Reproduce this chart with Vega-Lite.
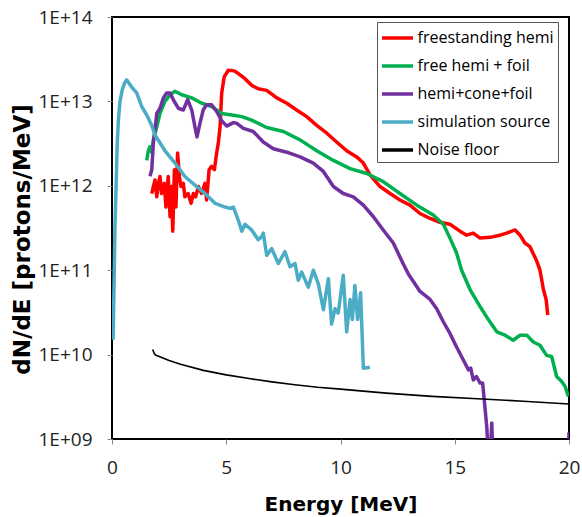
{
  "$schema": "https://vega.github.io/schema/vega-lite/v6.json",
  "width": 457,
  "height": 422,
  "autosize": "none",
  "padding": {"left": 112, "top": 17, "right": 13, "bottom": 78},
  "background": "white",
  "config": {
    "view": {"stroke": "#000000", "strokeWidth": 2},
    "font": "Open Sans"
  },
  "data": {
    "values": [
      {"s": "freestanding hemi", "e": 1.74, "v": 8.1e11},
      {"s": "freestanding hemi", "e": 1.81, "v": 9.8e11},
      {"s": "freestanding hemi", "e": 1.88, "v": 1.17e12},
      {"s": "freestanding hemi", "e": 1.96, "v": 7.4e11},
      {"s": "freestanding hemi", "e": 2.03, "v": 1.07e12},
      {"s": "freestanding hemi", "e": 2.10, "v": 1.29e12},
      {"s": "freestanding hemi", "e": 2.17, "v": 8.1e11},
      {"s": "freestanding hemi", "e": 2.29, "v": 1.07e12},
      {"s": "freestanding hemi", "e": 2.36, "v": 5.6e11},
      {"s": "freestanding hemi", "e": 2.46, "v": 1.29e12},
      {"s": "freestanding hemi", "e": 2.54, "v": 4.3e11},
      {"s": "freestanding hemi", "e": 2.60, "v": 9.8e11},
      {"s": "freestanding hemi", "e": 2.66, "v": 2.9e11},
      {"s": "freestanding hemi", "e": 2.73, "v": 1.55e12},
      {"s": "freestanding hemi", "e": 2.80, "v": 5.6e11},
      {"s": "freestanding hemi", "e": 2.87, "v": 2.45e12},
      {"s": "freestanding hemi", "e": 2.95, "v": 1.29e12},
      {"s": "freestanding hemi", "e": 3.02, "v": 9.8e11},
      {"s": "freestanding hemi", "e": 3.12, "v": 1.07e12},
      {"s": "freestanding hemi", "e": 3.19, "v": 7.4e11},
      {"s": "freestanding hemi", "e": 3.33, "v": 8.1e11},
      {"s": "freestanding hemi", "e": 3.46, "v": 6.2e11},
      {"s": "freestanding hemi", "e": 3.56, "v": 8.1e11},
      {"s": "freestanding hemi", "e": 3.66, "v": 7.4e11},
      {"s": "freestanding hemi", "e": 3.78, "v": 9.8e11},
      {"s": "freestanding hemi", "e": 3.92, "v": 8.1e11},
      {"s": "freestanding hemi", "e": 4.07, "v": 1.07e12},
      {"s": "freestanding hemi", "e": 4.14, "v": 6.8e11},
      {"s": "freestanding hemi", "e": 4.25, "v": 1.55e12},
      {"s": "freestanding hemi", "e": 4.36, "v": 1.7e12},
      {"s": "freestanding hemi", "e": 4.48, "v": 1.55e12},
      {"s": "freestanding hemi", "e": 4.58, "v": 2.45e12},
      {"s": "freestanding hemi", "e": 4.65, "v": 3.16e12},
      {"s": "freestanding hemi", "e": 4.73, "v": 5.0e12},
      {"s": "freestanding hemi", "e": 4.80, "v": 1.26e13},
      {"s": "freestanding hemi", "e": 4.91, "v": 1.95e13},
      {"s": "freestanding hemi", "e": 5.09, "v": 2.34e13},
      {"s": "freestanding hemi", "e": 5.35, "v": 2.3e13},
      {"s": "freestanding hemi", "e": 5.53, "v": 2.14e13},
      {"s": "freestanding hemi", "e": 5.82, "v": 1.86e13},
      {"s": "freestanding hemi", "e": 6.11, "v": 1.55e13},
      {"s": "freestanding hemi", "e": 6.40, "v": 1.41e13},
      {"s": "freestanding hemi", "e": 6.77, "v": 1.35e13},
      {"s": "freestanding hemi", "e": 7.21, "v": 1.1e13},
      {"s": "freestanding hemi", "e": 7.65, "v": 9.5e12},
      {"s": "freestanding hemi", "e": 8.08, "v": 7.9e12},
      {"s": "freestanding hemi", "e": 8.52, "v": 6.6e12},
      {"s": "freestanding hemi", "e": 8.96, "v": 5.2e12},
      {"s": "freestanding hemi", "e": 9.40, "v": 4.2e12},
      {"s": "freestanding hemi", "e": 9.83, "v": 3.3e12},
      {"s": "freestanding hemi", "e": 10.27, "v": 2.6e12},
      {"s": "freestanding hemi", "e": 10.71, "v": 2.2e12},
      {"s": "freestanding hemi", "e": 11.00, "v": 1.86e12},
      {"s": "freestanding hemi", "e": 11.29, "v": 1.35e12},
      {"s": "freestanding hemi", "e": 11.73, "v": 9.8e11},
      {"s": "freestanding hemi", "e": 12.17, "v": 8.1e11},
      {"s": "freestanding hemi", "e": 12.60, "v": 6.8e11},
      {"s": "freestanding hemi", "e": 13.04, "v": 5.9e11},
      {"s": "freestanding hemi", "e": 13.48, "v": 4.7e11},
      {"s": "freestanding hemi", "e": 13.92, "v": 4.1e11},
      {"s": "freestanding hemi", "e": 14.35, "v": 3.7e11},
      {"s": "freestanding hemi", "e": 14.79, "v": 3.5e11},
      {"s": "freestanding hemi", "e": 15.23, "v": 2.9e11},
      {"s": "freestanding hemi", "e": 15.52, "v": 2.6e11},
      {"s": "freestanding hemi", "e": 15.81, "v": 2.75e11},
      {"s": "freestanding hemi", "e": 16.11, "v": 2.4e11},
      {"s": "freestanding hemi", "e": 16.54, "v": 2.45e11},
      {"s": "freestanding hemi", "e": 16.98, "v": 2.6e11},
      {"s": "freestanding hemi", "e": 17.27, "v": 2.75e11},
      {"s": "freestanding hemi", "e": 17.64, "v": 3.0e11},
      {"s": "freestanding hemi", "e": 17.86, "v": 2.6e11},
      {"s": "freestanding hemi", "e": 18.07, "v": 2.1e11},
      {"s": "freestanding hemi", "e": 18.29, "v": 1.9e11},
      {"s": "freestanding hemi", "e": 18.58, "v": 1.3e11},
      {"s": "freestanding hemi", "e": 18.73, "v": 1.0e11},
      {"s": "freestanding hemi", "e": 18.88, "v": 5.9e10},
      {"s": "freestanding hemi", "e": 19.00, "v": 4.5e10},
      {"s": "freestanding hemi", "e": 19.07, "v": 2.95e10},

      {"s": "free hemi + foil", "e": 1.52, "v": 2.0e12},
      {"s": "free hemi + foil", "e": 1.59, "v": 2.6e12},
      {"s": "free hemi + foil", "e": 1.66, "v": 2.9e12},
      {"s": "free hemi + foil", "e": 1.74, "v": 2.5e12},
      {"s": "free hemi + foil", "e": 1.81, "v": 3.5e12},
      {"s": "free hemi + foil", "e": 1.96, "v": 5.0e12},
      {"s": "free hemi + foil", "e": 2.10, "v": 7.2e12},
      {"s": "free hemi + foil", "e": 2.32, "v": 1.0e13},
      {"s": "free hemi + foil", "e": 2.54, "v": 1.2e13},
      {"s": "free hemi + foil", "e": 2.76, "v": 1.32e13},
      {"s": "free hemi + foil", "e": 3.05, "v": 1.2e13},
      {"s": "free hemi + foil", "e": 3.49, "v": 1.1e13},
      {"s": "free hemi + foil", "e": 3.93, "v": 9.5e12},
      {"s": "free hemi + foil", "e": 4.36, "v": 8.7e12},
      {"s": "free hemi + foil", "e": 4.80, "v": 7.2e12},
      {"s": "free hemi + foil", "e": 5.24, "v": 6.9e12},
      {"s": "free hemi + foil", "e": 5.68, "v": 6.6e12},
      {"s": "free hemi + foil", "e": 6.11, "v": 6.0e12},
      {"s": "free hemi + foil", "e": 6.77, "v": 4.9e12},
      {"s": "free hemi + foil", "e": 7.50, "v": 4.4e12},
      {"s": "free hemi + foil", "e": 8.23, "v": 3.5e12},
      {"s": "free hemi + foil", "e": 8.96, "v": 2.6e12},
      {"s": "free hemi + foil", "e": 9.69, "v": 2.0e12},
      {"s": "free hemi + foil", "e": 10.42, "v": 1.6e12},
      {"s": "free hemi + foil", "e": 11.15, "v": 1.4e12},
      {"s": "free hemi + foil", "e": 11.87, "v": 1.12e12},
      {"s": "free hemi + foil", "e": 12.60, "v": 8.1e11},
      {"s": "free hemi + foil", "e": 13.34, "v": 5.9e11},
      {"s": "free hemi + foil", "e": 14.06, "v": 4.5e11},
      {"s": "free hemi + foil", "e": 14.50, "v": 3.5e11},
      {"s": "free hemi + foil", "e": 14.79, "v": 2.4e11},
      {"s": "free hemi + foil", "e": 15.08, "v": 1.6e11},
      {"s": "free hemi + foil", "e": 15.30, "v": 1.0e11},
      {"s": "free hemi + foil", "e": 15.67, "v": 5.9e10},
      {"s": "free hemi + foil", "e": 16.11, "v": 3.7e10},
      {"s": "free hemi + foil", "e": 16.47, "v": 2.6e10},
      {"s": "free hemi + foil", "e": 16.84, "v": 1.86e10},
      {"s": "free hemi + foil", "e": 17.20, "v": 1.7e10},
      {"s": "free hemi + foil", "e": 17.56, "v": 1.48e10},
      {"s": "free hemi + foil", "e": 17.86, "v": 1.7e10},
      {"s": "free hemi + foil", "e": 18.15, "v": 1.7e10},
      {"s": "free hemi + foil", "e": 18.44, "v": 1.41e10},
      {"s": "free hemi + foil", "e": 18.73, "v": 1.29e10},
      {"s": "free hemi + foil", "e": 19.02, "v": 9.8e9},
      {"s": "free hemi + foil", "e": 19.24, "v": 9.5e9},
      {"s": "free hemi + foil", "e": 19.46, "v": 5.5e9},
      {"s": "free hemi + foil", "e": 19.68, "v": 4.8e9},
      {"s": "free hemi + foil", "e": 19.83, "v": 4.2e9},
      {"s": "free hemi + foil", "e": 19.97, "v": 3.2e9},

      {"s": "hemi+cone+foil", "e": 1.66, "v": 1.3e12},
      {"s": "hemi+cone+foil", "e": 1.74, "v": 1.55e12},
      {"s": "hemi+cone+foil", "e": 1.81, "v": 3.2e12},
      {"s": "hemi+cone+foil", "e": 1.96, "v": 7.2e12},
      {"s": "hemi+cone+foil", "e": 2.10, "v": 8.3e12},
      {"s": "hemi+cone+foil", "e": 2.25, "v": 1.1e13},
      {"s": "hemi+cone+foil", "e": 2.39, "v": 1.26e13},
      {"s": "hemi+cone+foil", "e": 2.54, "v": 1.26e13},
      {"s": "hemi+cone+foil", "e": 2.68, "v": 1.05e13},
      {"s": "hemi+cone+foil", "e": 2.90, "v": 8.3e12},
      {"s": "hemi+cone+foil", "e": 3.12, "v": 7.9e12},
      {"s": "hemi+cone+foil", "e": 3.31, "v": 1.05e13},
      {"s": "hemi+cone+foil", "e": 3.49, "v": 7.9e12},
      {"s": "hemi+cone+foil", "e": 3.63, "v": 5.0e12},
      {"s": "hemi+cone+foil", "e": 3.72, "v": 3.8e12},
      {"s": "hemi+cone+foil", "e": 3.85, "v": 5.5e12},
      {"s": "hemi+cone+foil", "e": 3.99, "v": 7.9e12},
      {"s": "hemi+cone+foil", "e": 4.14, "v": 9.1e12},
      {"s": "hemi+cone+foil", "e": 4.36, "v": 9.1e12},
      {"s": "hemi+cone+foil", "e": 4.58, "v": 7.6e12},
      {"s": "hemi+cone+foil", "e": 4.80, "v": 5.9e12},
      {"s": "hemi+cone+foil", "e": 5.02, "v": 5.1e12},
      {"s": "hemi+cone+foil", "e": 5.31, "v": 5.6e12},
      {"s": "hemi+cone+foil", "e": 5.46, "v": 5.5e12},
      {"s": "hemi+cone+foil", "e": 5.75, "v": 4.8e12},
      {"s": "hemi+cone+foil", "e": 6.18, "v": 4.4e12},
      {"s": "hemi+cone+foil", "e": 6.62, "v": 3.3e12},
      {"s": "hemi+cone+foil", "e": 7.06, "v": 2.75e12},
      {"s": "hemi+cone+foil", "e": 7.65, "v": 2.5e12},
      {"s": "hemi+cone+foil", "e": 8.23, "v": 2.2e12},
      {"s": "hemi+cone+foil", "e": 8.81, "v": 1.86e12},
      {"s": "hemi+cone+foil", "e": 9.25, "v": 1.48e12},
      {"s": "hemi+cone+foil", "e": 9.69, "v": 9.8e11},
      {"s": "hemi+cone+foil", "e": 10.12, "v": 8.1e11},
      {"s": "hemi+cone+foil", "e": 10.56, "v": 7.4e11},
      {"s": "hemi+cone+foil", "e": 11.00, "v": 5.9e11},
      {"s": "hemi+cone+foil", "e": 11.44, "v": 4.3e11},
      {"s": "hemi+cone+foil", "e": 11.87, "v": 3.0e11},
      {"s": "hemi+cone+foil", "e": 12.31, "v": 2.1e11},
      {"s": "hemi+cone+foil", "e": 12.70, "v": 1.26e11},
      {"s": "hemi+cone+foil", "e": 12.97, "v": 9.0e10},
      {"s": "hemi+cone+foil", "e": 13.48, "v": 5.6e10},
      {"s": "hemi+cone+foil", "e": 13.92, "v": 4.5e10},
      {"s": "hemi+cone+foil", "e": 14.21, "v": 3.5e10},
      {"s": "hemi+cone+foil", "e": 14.50, "v": 2.45e10},
      {"s": "hemi+cone+foil", "e": 14.79, "v": 1.78e10},
      {"s": "hemi+cone+foil", "e": 15.08, "v": 1.23e10},
      {"s": "hemi+cone+foil", "e": 15.37, "v": 8.7e9},
      {"s": "hemi+cone+foil", "e": 15.60, "v": 6.6e9},
      {"s": "hemi+cone+foil", "e": 15.70, "v": 6.9e9},
      {"s": "hemi+cone+foil", "e": 15.81, "v": 5.0e9},
      {"s": "hemi+cone+foil", "e": 15.95, "v": 5.5e9},
      {"s": "hemi+cone+foil", "e": 16.11, "v": 4.6e9},
      {"s": "hemi+cone+foil", "e": 16.22, "v": 4.6e9},
      {"s": "hemi+cone+foil", "e": 16.32, "v": 2.4e9},
      {"s": "hemi+cone+foil", "e": 16.40, "v": 1.4e9},
      {"s": "hemi+cone+foil", "e": 16.47, "v": 6.3e8},
      {"s": "hemi+cone+foil", "e": 16.55, "v": 6.3e8},
      {"s": "hemi+cone+foil", "e": 16.62, "v": 1.55e9},
      {"s": "hemi+cone+foil", "e": 16.68, "v": 5.0e8},
      {"s": "hemi+cone+foil", "e": 19.95, "v": 4.0e8},
      {"s": "hemi+cone+foil", "e": 20.0, "v": 1.2e9},

      {"s": "simulation source", "e": 0.05, "v": 1.5e10},
      {"s": "simulation source", "e": 0.07, "v": 3.4e10},
      {"s": "simulation source", "e": 0.10, "v": 1.0e11},
      {"s": "simulation source", "e": 0.13, "v": 3.3e11},
      {"s": "simulation source", "e": 0.18, "v": 1.0e12},
      {"s": "simulation source", "e": 0.23, "v": 3.2e12},
      {"s": "simulation source", "e": 0.28, "v": 6.0e12},
      {"s": "simulation source", "e": 0.35, "v": 1.0e13},
      {"s": "simulation source", "e": 0.45, "v": 1.38e13},
      {"s": "simulation source", "e": 0.55, "v": 1.65e13},
      {"s": "simulation source", "e": 0.64, "v": 1.8e13},
      {"s": "simulation source", "e": 0.86, "v": 1.48e13},
      {"s": "simulation source", "e": 1.08, "v": 1.26e13},
      {"s": "simulation source", "e": 1.30, "v": 8.7e12},
      {"s": "simulation source", "e": 1.52, "v": 6.9e12},
      {"s": "simulation source", "e": 1.74, "v": 5.2e12},
      {"s": "simulation source", "e": 1.88, "v": 4.0e12},
      {"s": "simulation source", "e": 2.32, "v": 2.6e12},
      {"s": "simulation source", "e": 2.76, "v": 1.86e12},
      {"s": "simulation source", "e": 3.19, "v": 1.29e12},
      {"s": "simulation source", "e": 3.63, "v": 1.02e12},
      {"s": "simulation source", "e": 4.07, "v": 8.1e11},
      {"s": "simulation source", "e": 4.51, "v": 6.2e11},
      {"s": "simulation source", "e": 4.95, "v": 5.6e11},
      {"s": "simulation source", "e": 5.16, "v": 5.4e11},
      {"s": "simulation source", "e": 5.31, "v": 5.6e11},
      {"s": "simulation source", "e": 5.53, "v": 3.9e11},
      {"s": "simulation source", "e": 5.68, "v": 2.9e11},
      {"s": "simulation source", "e": 5.82, "v": 3.5e11},
      {"s": "simulation source", "e": 6.11, "v": 3.0e11},
      {"s": "simulation source", "e": 6.40, "v": 2.3e11},
      {"s": "simulation source", "e": 6.55, "v": 2.5e11},
      {"s": "simulation source", "e": 6.62, "v": 2.75e11},
      {"s": "simulation source", "e": 6.77, "v": 1.5e11},
      {"s": "simulation source", "e": 6.99, "v": 1.8e11},
      {"s": "simulation source", "e": 7.28, "v": 1.2e11},
      {"s": "simulation source", "e": 7.57, "v": 1.66e11},
      {"s": "simulation source", "e": 7.79, "v": 1.1e11},
      {"s": "simulation source", "e": 8.01, "v": 1.2e11},
      {"s": "simulation source", "e": 8.15, "v": 7.6e10},
      {"s": "simulation source", "e": 8.30, "v": 9.5e10},
      {"s": "simulation source", "e": 8.59, "v": 6.3e10},
      {"s": "simulation source", "e": 8.81, "v": 1.0e11},
      {"s": "simulation source", "e": 9.03, "v": 6.9e10},
      {"s": "simulation source", "e": 9.25, "v": 3.4e10},
      {"s": "simulation source", "e": 9.47, "v": 7.9e10},
      {"s": "simulation source", "e": 9.61, "v": 2.3e10},
      {"s": "simulation source", "e": 9.76, "v": 3.5e10},
      {"s": "simulation source", "e": 9.90, "v": 3.1e10},
      {"s": "simulation source", "e": 10.12, "v": 8.7e10},
      {"s": "simulation source", "e": 10.27, "v": 1.86e10},
      {"s": "simulation source", "e": 10.42, "v": 4.5e10},
      {"s": "simulation source", "e": 10.52, "v": 2.6e10},
      {"s": "simulation source", "e": 10.63, "v": 6.6e10},
      {"s": "simulation source", "e": 10.75, "v": 2.6e10},
      {"s": "simulation source", "e": 10.88, "v": 5.4e10},
      {"s": "simulation source", "e": 11.00, "v": 6.9e9},
      {"s": "simulation source", "e": 11.29, "v": 7.1e9},

      {"s": "Noise floor", "e": 1.78, "v": 1.15e10},
      {"s": "Noise floor", "e": 1.85, "v": 1.03e10},
      {"s": "Noise floor", "e": 1.9, "v": 9.9e9},
      {"s": "Noise floor", "e": 2.5, "v": 8.5e9},
      {"s": "Noise floor", "e": 3.0, "v": 7.7e9},
      {"s": "Noise floor", "e": 4.0, "v": 6.5e9},
      {"s": "Noise floor", "e": 5.0, "v": 5.75e9},
      {"s": "Noise floor", "e": 6.0, "v": 5.2e9},
      {"s": "Noise floor", "e": 7.0, "v": 4.75e9},
      {"s": "Noise floor", "e": 8.0, "v": 4.4e9},
      {"s": "Noise floor", "e": 9.0, "v": 4.1e9},
      {"s": "Noise floor", "e": 10.0, "v": 3.9e9},
      {"s": "Noise floor", "e": 12.0, "v": 3.5e9},
      {"s": "Noise floor", "e": 14.0, "v": 3.2e9},
      {"s": "Noise floor", "e": 16.0, "v": 3.0e9},
      {"s": "Noise floor", "e": 18.0, "v": 2.8e9},
      {"s": "Noise floor", "e": 20.0, "v": 2.6e9}
    ]
  },
  "mark": {"type": "line", "clip": true, "strokeJoin": "round"},
  "encoding": {
    "x": {
      "field": "e",
      "type": "quantitative",
      "scale": {"domain": [0, 20], "nice": false, "zero": false},
      "axis": {
        "values": [0, 5, 10, 15, 20],
        "title": "Energy [MeV]",
        "titleFont": "DejaVu Sans",
        "titleFontSize": 20,
        "titleFontWeight": "bold",
        "titleColor": "#000000",
        "titleY": 71,
        "titleBaseline": "alphabetic",
        "labelFont": "Open Sans",
        "labelFontSize": 19,
        "labelColor": "#222222",
        "labelPadding": 14,
        "labelFlush": false,
        "labelOverlap": false,
        "tickColor": "#888888",
        "tickSize": 5,
        "domain": false,
        "grid": false
      }
    },
    "y": {
      "field": "v",
      "type": "quantitative",
      "scale": {"type": "log", "domain": [1e9, 1e14], "nice": false},
      "axis": {
        "values": [1e9, 1e10, 1e11, 1e12, 1e13, 1e14],
        "labelExpr": "'1E+' + (log(datum.value)/LN10 < 9.5 ? '0' : '') + round(log(datum.value)/LN10)",
        "title": "dN/dE [protons/MeV]",
        "titleFont": "DejaVu Sans",
        "titleFontSize": 23,
        "titleFontWeight": "bold",
        "titleColor": "#000000",
        "titleAngle": -90,
        "titleX": -90,
        "titleY": 222,
        "titleAlign": "center",
        "titleBaseline": "middle",
        "labelFont": "Open Sans",
        "labelFontSize": 19,
        "labelColor": "#222222",
        "labelPadding": 15,
        "labelFlush": false,
        "labelOverlap": false,
        "tickColor": "#888888",
        "tickSize": 5,
        "domain": false,
        "grid": false
      }
    },
    "strokeWidth": {
      "condition": {"test": "datum.s === 'Noise floor'", "value": 1.6},
      "value": 3.5
    },
    "color": {
      "field": "s",
      "type": "nominal",
      "sort": ["freestanding hemi", "free hemi + foil", "hemi+cone+foil", "simulation source", "Noise floor"],
      "scale": {
        "domain": ["freestanding hemi", "free hemi + foil", "hemi+cone+foil", "simulation source", "Noise floor"],
        "range": ["#FF0000", "#00B050", "#7030A0", "#4BACC6", "#000000"]
      },
      "legend": {
        "orient": "none",
        "legendX": 265,
        "legendY": 5,
        "title": null,
        "symbolType": "M-1.55,0H1.55",
        "symbolSize": 400,
        "symbolStrokeWidth": 3.5,
        "symbolOffset": 4.5,
        "labelOffset": 8,
        "labelFont": "Open Sans",
        "labelFontSize": 16,
        "labelColor": "#000000",
        "labelLimit": 300,
        "padding": 4,
        "rowPadding": 8,
        "strokeColor": "#555555",
        "fillColor": "#ffffff"
      }
    }
  }
}
